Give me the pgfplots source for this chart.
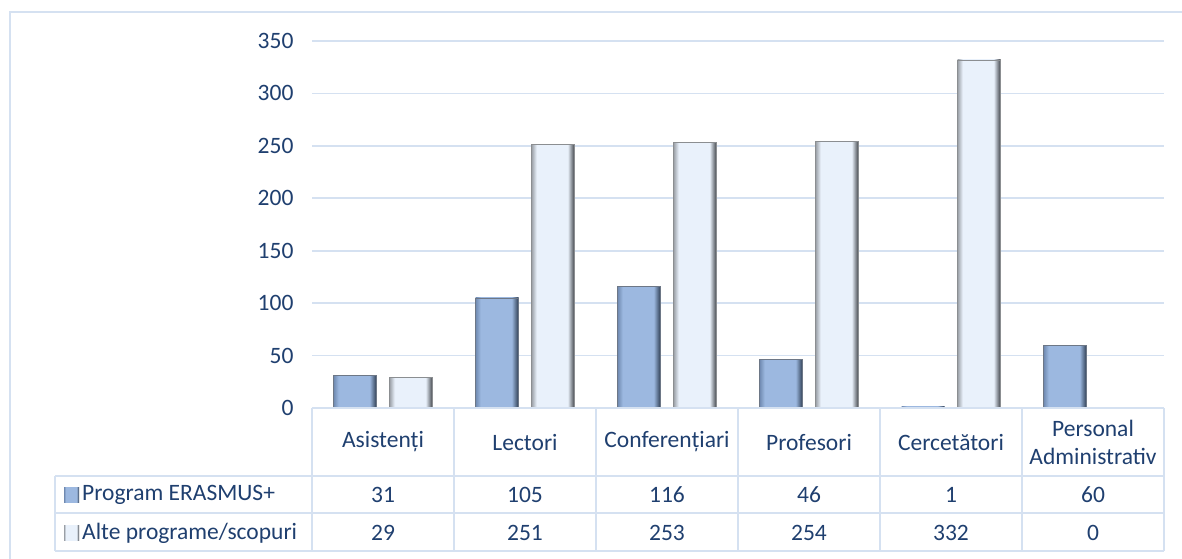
\documentclass[border=0pt]{standalone}
\usepackage{pgfplots}
\pgfplotsset{compat=1.18}
\usepackage{pgfplotstable}
\usepackage{fontspec}
\setmainfont{Carlito}
\definecolor{txt}{HTML}{1F3F6F}
\definecolor{gridc}{HTML}{D5E1F1}
\definecolor{bface}{HTML}{9CB8E0}
\definecolor{bleft}{HTML}{6F89B0}
\definecolor{bright}{HTML}{2E3D52}
\definecolor{gface}{HTML}{E9F1FB}
\definecolor{gleft}{HTML}{9A9FA6}
\definecolor{gright}{HTML}{3E4248}
\pgfdeclarehorizontalshading{bluebar}{100bp}{color(0bp)=(bleft); color(25bp)=(bleft); color(31bp)=(bface); color(67bp)=(bface); color(75bp)=(bright); color(100bp)=(bright)}
\pgfdeclarehorizontalshading{greybar}{100bp}{color(0bp)=(gleft); color(25bp)=(gleft); color(31bp)=(gface); color(67bp)=(gface); color(75bp)=(gright); color(100bp)=(gright)}
\pgfplotstableread{
x erasmus alte
0 31 29
1 105 251
2 116 253
3 46 254
4 1 332
5 60 0
}\datatable
\begin{document}
\begin{tikzpicture}[x=1pt,y=1pt]
\useasboundingbox (0,0) rectangle (1182,-558);
\draw[gridc, line width=2pt] (10,-600) -- (10,-12) -- (1200,-12);
\begin{axis}[
 at={(312pt,-408pt)}, anchor=south west,
 scale only axis, width=852pt, height=367pt,
 xmin=-0.5, xmax=5.5, ymin=0, ymax=350,
 ytick={0,50,...,350}, xtick={0,...,5},
 xticklabels={Asistenți,Lectori,Conferențiari,Profesori,Cercetători,{Personal\\Administrativ}},
 xticklabel style={anchor=center, yshift=-34pt, align=center, text=txt, font=\fontsize{23.5}{28}\selectfont},
 yticklabel style={anchor=east, xshift=-15pt, text=txt, font=\fontsize{23.5}{28}\selectfont},
 /pgf/number format/assume math mode=true,
 axis line style={draw=none}, major tick length=0pt,
 ymajorgrids, grid style={gridc, line width=1.6pt},
 clip=false,
]
\pgfplotsinvokeforeach{0,...,5}{
\addplot[ybar, bar width=43pt, bar shift=-28pt, draw=bright!70, line width=0.7pt, shading=bluebar, restrict x to domain=#1:#1] table[x=x, y=erasmus] {\datatable};
\addplot[ybar, bar width=43pt, bar shift=28pt, draw=gright!60, line width=0.7pt, shading=greybar, restrict x to domain=#1:#1] table[x=x, y=alte] {\datatable};
}
\addplot[draw=none, mark=none, point meta=explicit symbolic, nodes near coords={\pgfplotspointmeta},
  nodes near coords style={anchor=center, text=txt, font=\fontsize{23.5}{28}\selectfont}]
  table[x=x, y expr=-83, meta=erasmus] {\datatable};
\addplot[draw=none, mark=none, point meta=explicit symbolic, nodes near coords={\pgfplotspointmeta},
  nodes near coords style={anchor=center, text=txt, font=\fontsize{23.5}{28}\selectfont}]
  table[x=x, y expr=-119.2, meta=alte] {\datatable};
\end{axis}
\begin{scope}[gridc, line width=1.6pt]
\foreach \xx in {312,454,596,738,880,1022,1164} \draw (\xx,-408) -- (\xx,-551);
\draw (312,-408) -- (1164,-408);
\draw (55,-476) -- (1164,-476);
\draw (55,-513) -- (1164,-513);
\draw (55,-551) -- (1164,-551);
\draw (55,-476) -- (55,-551);
\end{scope}
\shade[shading=bluebar] (64,-487) rectangle (79,-502);
\shade[shading=greybar] (64,-525) rectangle (79,-540);
\node[anchor=west, inner sep=0, text=txt, font=\fontsize{23.5}{28}\selectfont] at (82,-495) {Program ERASMUS+};
\node[anchor=west, inner sep=0, text=txt, font=\fontsize{23.5}{28}\selectfont] at (82,-533) {Alte programe/scopuri};
\end{tikzpicture}
\end{document}
